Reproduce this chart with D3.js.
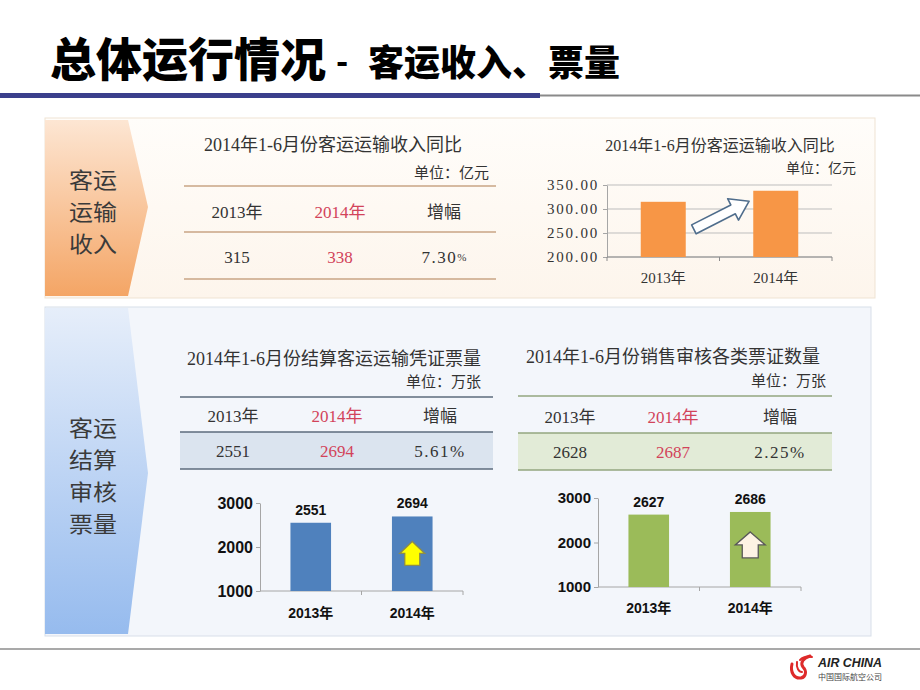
<!DOCTYPE html>
<html><head><meta charset="utf-8">
<script src="https://cdn.jsdelivr.net/npm/d3@7/dist/d3.min.js"></script>
<style>body{margin:0;background:#fff;} svg{display:block;}</style>
</head><body>
<script>
// ---------- data ----------
const years = ["2013年", "2014年"];
const revenueValues = [315, 338];
const revenueGrowth = "7.30";
const revenueTicks = [200, 250, 300, 350];
const settlementValues = [2551, 2694];
const settlementGrowth = "5.61%";
const auditTableValues = [2628, 2687];
const auditGrowth = "2.25%";
const auditChartValues = [2627, 2686];
const volumeTicks = [1000, 2000, 3000];
const headerLabels = ["2013年", "2014年", "增幅"];

const SERIF = "'Liberation Serif','Noto Sans CJK SC',serif";
const SANS = "'Liberation Sans','Noto Sans CJK SC',sans-serif";
const CJK = "'Noto Sans CJK SC',sans-serif";
const RED = "#d2435a";
const TXT = "#333";

const svg = d3.select("body").append("svg").attr("width", 920).attr("height", 690);
const defs = svg.append("defs");
function vgrad(id, c0, c1) {
  const g = defs.append("linearGradient").attr("id", id).attr("x1", 0).attr("y1", 0).attr("x2", 0).attr("y2", 1);
  g.append("stop").attr("offset", "0%").attr("stop-color", c0);
  g.append("stop").attr("offset", "100%").attr("stop-color", c1);
}
vgrad("gOrange", "#fde6d3", "#f4a565");
vgrad("gBlue", "#e6eefa", "#96bbee");
vgrad("gPanel1", "#fffdfa", "#fdf5ec");

// ---------- title ----------
svg.append("text").attr("x", 50).attr("y", 76).attr("font-family", CJK).attr("font-weight", 900)
  .attr("font-size", 46).attr("fill", "#000").attr("textLength", 276).attr("lengthAdjust", "spacingAndGlyphs")
  .text("总体运行情况");
svg.append("text").attr("x", 336).attr("y", 73).attr("font-family", CJK).attr("font-weight", 900)
  .attr("font-size", 32).attr("fill", "#000").text("-");
svg.append("text").attr("x", 368).attr("y", 76).attr("font-family", CJK).attr("font-weight", 900)
  .attr("font-size", 36).attr("fill", "#000").attr("textLength", 252).attr("lengthAdjust", "spacingAndGlyphs")
  .text("客运收入、票量");
svg.append("rect").attr("x", 0).attr("y", 93).attr("width", 540).attr("height", 5).attr("fill", "#3b3f8c");
svg.append("line").attr("x1", 540).attr("x2", 920).attr("y1", 95.5).attr("y2", 95.5).attr("stroke", "#8a8a8a").attr("stroke-width", 2);

// ---------- panels ----------
svg.append("rect").attr("x", 45).attr("y", 118).attr("width", 830).attr("height", 180)
  .attr("fill", "url(#gPanel1)").attr("stroke", "#efe3d3");
svg.append("rect").attr("x", 45).attr("y", 307).attr("width", 826).attr("height", 329)
  .attr("fill", "#f3f6fb").attr("stroke", "#d8dfe9");

function chevron(y0, y1, ym, fill, lines, firstY, step) {
  svg.append("path").attr("d", `M45,${y0}L128,${y0}L148,${ym}L128,${y1}L45,${y1}Z`).attr("fill", fill);
  lines.forEach((s, i) => svg.append("text").attr("x", 69).attr("y", firstY + i * step + 8)
    .attr("font-family", CJK).attr("font-size", 21.8).attr("fill", "#3a3a3a")
    .attr("textLength", 48).attr("lengthAdjust", "spacingAndGlyphs").text(s));
}
chevron(120, 296, 207, "url(#gOrange)", ["客运", "运输", "收入"], 179.5, 32);
chevron(308, 634, 473, "url(#gBlue)", ["客运", "结算", "审核", "票量"], 427.5, 32);

// ---------- tables ----------
function table(o) {
  svg.append("text").attr("x", o.titleX).attr("y", o.titleY).attr("text-anchor", "middle").attr("dominant-baseline", "central")
    .attr("font-family", SERIF).attr("font-size", 18).attr("fill", TXT).text(o.title);
  svg.append("text").attr("x", o.unitX).attr("y", o.unitY).attr("text-anchor", "end").attr("dominant-baseline", "central")
    .attr("font-family", SERIF).attr("font-size", 15).attr("fill", TXT).text(o.unit);
  if (o.shade) svg.append("rect").attr("x", o.x0).attr("y", o.lines[1]).attr("width", o.x1 - o.x0)
    .attr("height", o.lines[2] - o.lines[1]).attr("fill", o.shade);
  o.lines.forEach(y => svg.append("line").attr("x1", o.x0).attr("x2", o.x1).attr("y1", y).attr("y2", y)
    .attr("stroke", o.lineColor).attr("stroke-width", 1.6));
  headerLabels.forEach((h, i) => svg.append("text").attr("x", o.cols[i]).attr("y", o.headY).attr("text-anchor", "middle")
    .attr("dominant-baseline", "central").attr("font-family", SERIF).attr("font-size", 17)
    .attr("fill", i === 1 ? RED : TXT).text(h));
  o.values.forEach((v, i) => svg.append("text").attr("x", o.cols[i]).attr("y", o.valY).attr("text-anchor", "middle")
    .attr("dominant-baseline", "central").attr("font-family", SERIF).attr("font-size", 17)
    .attr("fill", i === 1 ? RED : TXT).text(v));
  const g = svg.append("text").attr("x", o.cols[2]).attr("y", o.valY).attr("text-anchor", "middle")
    .attr("dominant-baseline", "central").attr("font-family", SERIF).attr("font-size", 17).attr("fill", TXT)
    .attr("letter-spacing", 1.5);
  if (o.smallPct) {
    g.append("tspan").text(o.growth);
    g.append("tspan").attr("font-size", 11).attr("letter-spacing", 0).text("%");
  } else g.text(o.growth);
}
table({ title: "2014年1-6月份客运运输收入同比", titleX: 333, titleY: 145, unit: "单位：亿元", unitX: 489, unitY: 173,
  x0: 184, x1: 496, lines: [186, 232, 279], lineColor: "#c9a584", cols: [237, 340, 444], headY: 212, valY: 257,
  values: revenueValues, growth: revenueGrowth, smallPct: true });
table({ title: "2014年1-6月份结算客运运输凭证票量", titleX: 334, titleY: 359, unit: "单位：万张", unitX: 481, unitY: 382,
  x0: 180, x1: 493, lines: [397, 432, 469], lineColor: "#5d6b7c", shade: "#dbe4ef", cols: [233, 337, 440],
  headY: 416, valY: 451, values: settlementValues, growth: settlementGrowth });
table({ title: "2014年1-6月份销售审核各类票证数量", titleX: 673, titleY: 357, unit: "单位：万张", unitX: 826, unitY: 381,
  x0: 518, x1: 832, lines: [396, 433, 470], lineColor: "#93a67f", shade: "#e2ebd7", cols: [570, 673, 780],
  headY: 417, valY: 452, values: auditTableValues, growth: auditGrowth });

// ---------- chart 1: revenue ----------
{
  svg.append("text").attr("x", 720).attr("y", 145).attr("text-anchor", "middle").attr("dominant-baseline", "central")
    .attr("font-family", SERIF).attr("font-size", 16).attr("fill", TXT).text("2014年1-6月份客运运输收入同比");
  svg.append("text").attr("x", 856).attr("y", 168).attr("text-anchor", "end").attr("dominant-baseline", "central")
    .attr("font-family", SERIF).attr("font-size", 14).attr("fill", TXT).text("单位：亿元");
  const x = d3.scaleBand().domain(years).range([607, 832]).paddingInner(0.6).paddingOuter(0.3);
  const y = d3.scaleLinear().domain([200, 350]).range([257, 185]);
  const g = svg.append("g");
  g.selectAll("line.grid").data(revenueTicks).join("line").attr("class", "grid")
    .attr("x1", 607).attr("x2", 832).attr("y1", d => y(d)).attr("y2", d => y(d)).attr("stroke", "#bdbdbd");
  const ya = g.append("g").attr("transform", "translate(607,0)")
    .call(d3.axisLeft(y).tickValues(revenueTicks).tickFormat(d3.format(".2f")).tickSize(4).tickSizeOuter(0));
  ya.select(".domain").attr("stroke", "#a6a6a6");
  ya.selectAll(".tick line").attr("stroke", "#a6a6a6");
  ya.selectAll(".tick text").attr("font-family", SERIF).attr("font-size", 15).attr("fill", TXT)
    .attr("letter-spacing", 1.8).attr("x", -8);
  const [r0, r1] = x.range();
  const bounds = d3.range(years.length + 1).map(i => r0 + i * (r1 - r0) / years.length);
  g.append("line").attr("x1", r0).attr("x2", r1).attr("y1", y(200)).attr("y2", y(200)).attr("stroke", "#8c8c8c");
  g.selectAll("line.xt").data(bounds).join("line").attr("class", "xt").attr("x1", d => d).attr("x2", d => d)
    .attr("y1", y(200)).attr("y2", y(200) + 4).attr("stroke", "#8c8c8c");
  g.selectAll("rect.bar").data(years).join("rect").attr("class", "bar")
    .attr("x", d => x(d)).attr("width", x.bandwidth())
    .attr("y", (d, i) => y(revenueValues[i])).attr("height", (d, i) => y(200) - y(revenueValues[i]))
    .attr("fill", "#f79646");
  g.selectAll("text.cat").data(years).join("text").attr("class", "cat")
    .attr("x", d => x(d) + x.bandwidth() / 2).attr("y", 278).attr("text-anchor", "middle").attr("dominant-baseline", "central")
    .attr("font-family", SERIF).attr("font-size", 15).attr("fill", TXT).text(d => d);
  // hollow block arrow between bars
  const ax = (x(years[0]) + x.bandwidth() + x(years[1])) / 2 + 2, ay = (y(revenueValues[0]) + y(revenueValues[1])) / 2 + 19;
  g.append("path").attr("transform", `translate(${ax},${ay}) rotate(-27)`)
    .attr("d", "M-31,-5L13,-5L13,-12L31,0L13,12L13,5L-31,5Z")
    .attr("fill", "#fff").attr("stroke", "#4f6d8c").attr("stroke-width", 1.6).attr("stroke-linejoin", "round");
}

// ---------- charts 2 & 3 ----------
function volumeChart(o) {
  const x = d3.scaleBand().domain(years).range([o.x0, o.x1]).paddingInner(0.6).paddingOuter(0.3);
  const y = d3.scaleLinear().domain([1000, 3000]).range([o.yb, o.yt]);
  const g = svg.append("g");
  const ya = g.append("g").attr("transform", `translate(${o.x0},0)`)
    .call(d3.axisLeft(y).tickValues(volumeTicks).tickFormat(d3.format("d")).tickSize(4).tickSizeOuter(0));
  ya.select(".domain").attr("stroke", "#a6a6a6");
  ya.selectAll(".tick line").attr("stroke", "#a6a6a6");
  ya.selectAll(".tick text").attr("font-family", SANS).attr("font-weight", "bold").attr("font-size", o.fs)
    .attr("fill", "#111").attr("x", -7);
  const [r0, r1] = x.range();
  const bounds = d3.range(1, years.length + 1).map(i => r0 + i * (r1 - r0) / years.length);
  g.append("line").attr("x1", r0).attr("x2", r1).attr("y1", y(1000)).attr("y2", y(1000)).attr("stroke", "#a6a6a6");
  g.selectAll("line.xt").data(bounds).join("line").attr("class", "xt").attr("x1", d => d).attr("x2", d => d)
    .attr("y1", y(1000)).attr("y2", y(1000) + 4).attr("stroke", "#a6a6a6");
  g.selectAll("rect.bar").data(years).join("rect").attr("class", "bar")
    .attr("x", d => x(d)).attr("width", x.bandwidth())
    .attr("y", (d, i) => y(o.values[i])).attr("height", (d, i) => y(1000) - y(o.values[i])).attr("fill", o.color);
  g.selectAll("text.val").data(years).join("text").attr("class", "val")
    .attr("x", d => x(d) + x.bandwidth() / 2).attr("y", (d, i) => y(o.values[i]) - 8).attr("text-anchor", "middle")
    .attr("font-family", SANS).attr("font-weight", "bold").attr("font-size", 14).attr("fill", "#111")
    .text((d, i) => o.values[i]);
  g.selectAll("text.cat").data(years).join("text").attr("class", "cat")
    .attr("x", d => x(d) + x.bandwidth() / 2).attr("y", o.catY).attr("text-anchor", "middle").attr("dominant-baseline", "central")
    .attr("font-family", SANS).attr("font-weight", "bold").attr("font-size", 14).attr("fill", "#111").text(d => d);
  // up arrow inside the 2014 bar
  const cx = x(years[1]) + x.bandwidth() / 2, top = y(o.values[1]) + o.aOff;
  const hh = o.aHead, sh = o.aShaft, hl = o.aHeadLen, L = o.aLen;
  g.append("path")
    .attr("d", `M${cx},${top}L${cx + hh},${top + hl}L${cx + sh},${top + hl}L${cx + sh},${top + L}L${cx - sh},${top + L}L${cx - sh},${top + hl}L${cx - hh},${top + hl}Z`)
    .attr("fill", o.aFill).attr("stroke", o.aStroke).attr("stroke-width", 1.3).attr("stroke-linejoin", "miter");
}
volumeChart({ x0: 260, x1: 463, yb: 591, yt: 503, values: settlementValues, color: "#4f81bd", fs: 16, catY: 613,
  aOff: 25, aHead: 12.5, aShaft: 7.5, aHeadLen: 12, aLen: 24, aFill: "#ffff00", aStroke: "#8c8c4c" });
volumeChart({ x0: 598, x1: 801, yb: 587, yt: 498, values: auditChartValues, color: "#9bbb59", fs: 15, catY: 608,
  aOff: 20, aHead: 15, aShaft: 8, aHeadLen: 13, aLen: 26, aFill: "#fdf3e4", aStroke: "#595959" });

// ---------- footer ----------
svg.append("line").attr("x1", 0).attr("x2", 920).attr("y1", 649).attr("y2", 649).attr("stroke", "#8c8c8c").attr("stroke-width", 1.5);
const logo = svg.append("g").attr("fill", "none").attr("stroke", "#de2a2a").attr("stroke-linecap", "round");
logo.append("path").attr("d", "M792,664 C790,672 794,679 801,678 C806,677 807,671 803,667 C800,663 803,658 810,656").attr("stroke-width", 3);
logo.append("path").attr("d", "M797,662 C796,668 799,672 802,672").attr("stroke-width", 2);
logo.append("path").attr("d", "M800,660 C803,657 807,656 812,657").attr("stroke-width", 2);
svg.append("text").attr("x", 818).attr("y", 667).attr("font-family", SANS).attr("font-weight", "bold").attr("font-style", "italic")
  .attr("font-size", 13).attr("fill", "#222").attr("textLength", 64).attr("lengthAdjust", "spacingAndGlyphs").text("AIR CHINA");
svg.append("text").attr("x", 818).attr("y", 680).attr("font-family", CJK).attr("font-size", 8)
  .attr("fill", "#444").attr("textLength", 64).attr("lengthAdjust", "spacingAndGlyphs").text("中国国际航空公司");
</script>
</body></html>
